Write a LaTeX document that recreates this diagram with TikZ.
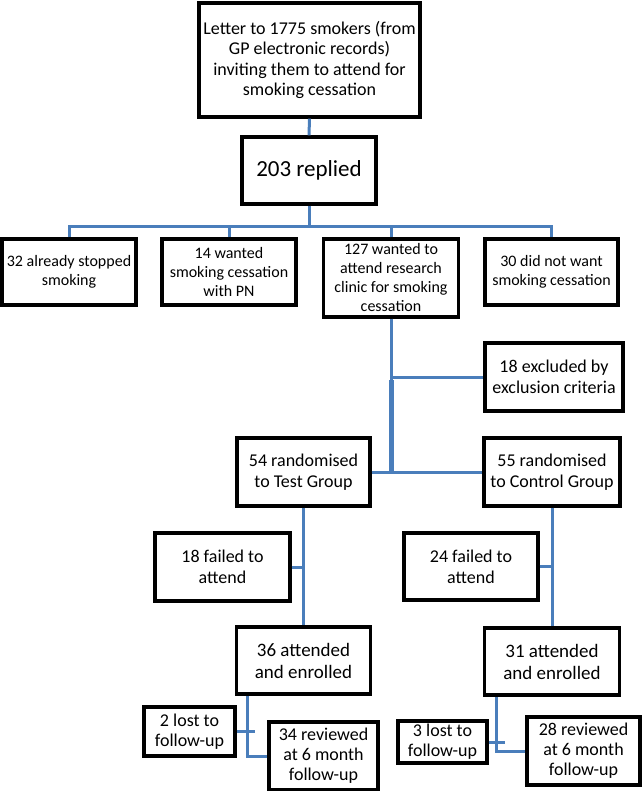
\documentclass[tikz,border=0pt]{standalone}
\usepackage{fontspec}
\setmainfont{Carlito}
\definecolor{linkblue}{RGB}{74,126,187}
\begin{document}
\begin{tikzpicture}[x=1pt,y=-1pt,
  box/.style={draw,line width=3.2pt,inner sep=0pt,align=center,font=\fontsize{18}{21}\selectfont},
  rowbox/.style={box,font=\fontsize{16}{19}\selectfont},
  endbox/.style={box,font=\fontsize{18}{20}\selectfont},
  link/.style={linkblue,line width=3pt}]
\useasboundingbox (0,0) rectangle (641,791);
% enrolment
\node[box,minimum width=221pt,minimum height=114pt,font=\fontsize{18}{20.5}\selectfont] (top) at (309.5,60)
  {Letter to 1775 smokers (from\\GP electronic records)\\inviting them to attend for\\smoking cessation};
\node[box,minimum width=134pt,minimum height=67pt,font=\fontsize{23}{27}\selectfont] (reply) at (309,170.5) {203 replied};
\coordinate (bus) at (309,227);
\node[rowbox,minimum width=134pt,minimum height=66pt] (stopped) at (69,272) {32 already stopped\\smoking};
\node[rowbox,minimum width=134pt,minimum height=66pt] (pn) at (229,272) {14 wanted\\smoking cessation\\with PN};
\node[rowbox,minimum width=135pt,minimum height=78pt] (clinic) at (391,278) {127 wanted to\\attend research\\clinic for smoking\\cessation};
\node[rowbox,minimum width=133pt,minimum height=66pt] (notwant) at (551.5,272) {30 did not want\\smoking cessation};
\draw[link] (top.south) -- (reply.north);
\draw[link] (reply.south) -- (bus);
\draw[link] (stopped.north) |- (bus) -| (notwant.north);
\draw[link] (pn.north) -- (pn.north |- bus);
\draw[link] (clinic.north) -- (clinic.north |- bus);
% randomisation
\node[box,minimum width=138pt,minimum height=68pt] (excl) at (554,377) {18 excluded by\\exclusion criteria};
\node[box,minimum width=133pt,minimum height=68pt] (test) at (303.5,472) {54 randomised\\to Test Group};
\node[box,minimum width=136pt,minimum height=68pt] (ctrl) at (552,472) {55 randomised\\to Control Group};
\coordinate (split) at (clinic.south |- test.east);
\coordinate (thick) at (391,380);
\draw[link] (clinic.south) -- (split);
\draw[link,line width=5pt] (thick) -- (split);
\draw[link] (clinic.south |- excl.west) -- (excl.west);
\draw[link] (test.east) -- (ctrl.west);
% follow-up, test group
\node[box,minimum width=135pt,minimum height=68pt] (failtest) at (222.5,567) {18 failed to\\attend};
\node[box,minimum width=134pt,minimum height=67pt,font=\fontsize{19}{22}\selectfont] (enroltest) at (303.5,660.5) {36 attended\\and enrolled};
\node[endbox,minimum width=91pt,minimum height=49pt] (losttest) at (189.5,731.5) {2 lost to\\follow-up};
\node[endbox,minimum width=109pt,minimum height=68pt] (revtest) at (323.5,756) {34 reviewed\\at 6 month\\follow-up};
\draw[link] (test.south) -- (enroltest.north);
\draw[link] (failtest.east) -- (failtest.east -| test.south);
\draw[link] (revtest.west) -| ([xshift=-20pt]revtest.west |- enroltest.south);
\draw[link] (losttest.east) -- ++(18,0);
% follow-up, control group
\node[box,minimum width=134pt,minimum height=67pt] (failctrl) at (471,566.5) {24 failed to\\attend};
\node[box,minimum width=135pt,minimum height=67pt,font=\fontsize{19}{22}\selectfont] (enrolctrl) at (552,661.5) {31 attended\\and enrolled};
\node[endbox,minimum width=89pt,minimum height=42pt] (lostctrl) at (442.5,742) {3 lost to\\follow-up};
\node[endbox,minimum width=113pt,minimum height=68pt] (revctrl) at (583.5,751) {28 reviewed\\at 6 month\\follow-up};
\draw[link] (ctrl.south) -- (enrolctrl.north);
\draw[link] (failctrl.east) -- (failctrl.east -| ctrl.south);
\draw[link] (revctrl.west) -| ([xshift=-29pt]revctrl.west |- enrolctrl.south);
\draw[link] (lostctrl.east) -- ++(16,0);
\end{tikzpicture}
\end{document}
